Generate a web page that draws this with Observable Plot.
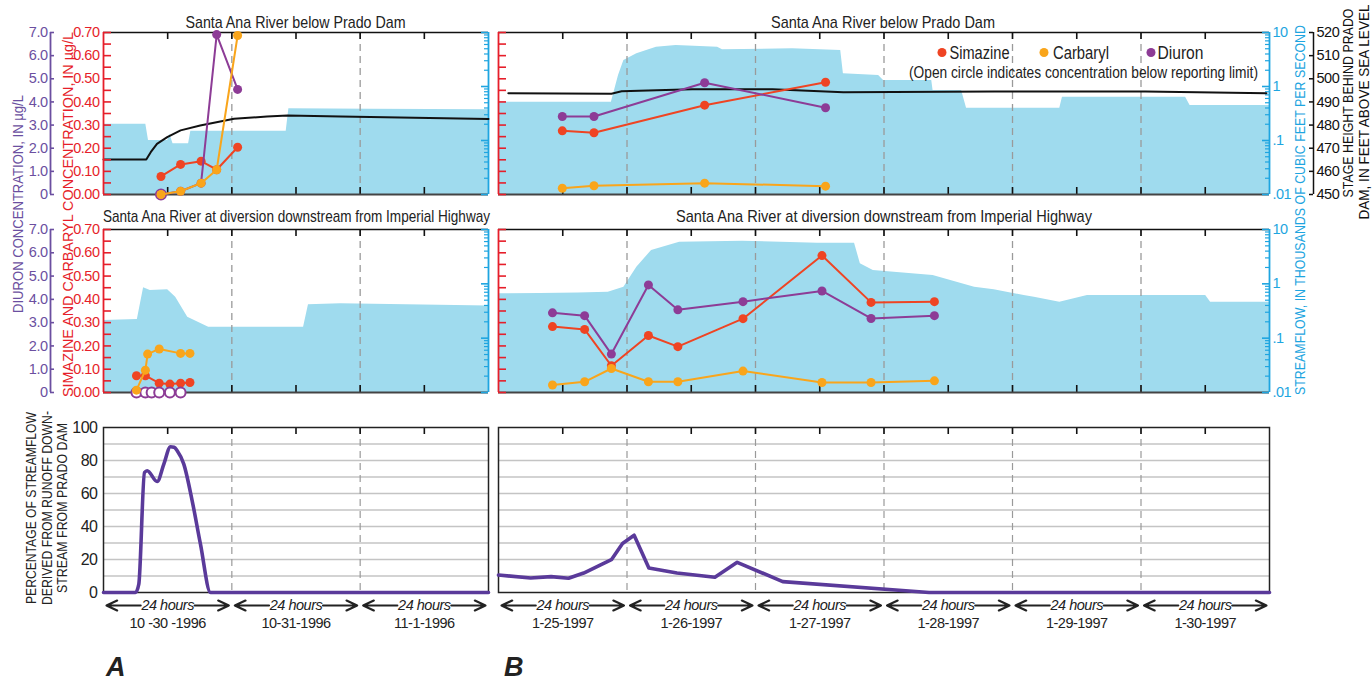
<!DOCTYPE html>
<html>
<head>
<meta charset="utf-8">
<script src="https://cdn.jsdelivr.net/npm/d3@7"></script>
<script src="https://cdn.jsdelivr.net/npm/@observablehq/plot@0.6"></script>
<style>
  html, body { margin: 0; padding: 0; background: #fff; overflow: hidden; }
  #chart { position: relative; width: 1372px; height: 677px; overflow: hidden; }
  #chart svg { position: absolute; left: 0; top: 0; }
</style>
</head>
<body>
<div id="chart"></div>
<script>
// ---------------- Axes ----------------
const flowTicks = [0.01, 0.1, 1, 10];                 // thousands of ft³/s (log)
const flowTickLabels = [".01", ".1", "1", "10"];
const concTicks = [0, 0.1, 0.2, 0.3, 0.4, 0.5, 0.6, 0.7]; // simazine & carbaryl, µg/L
const concMinorTicks = [0, 0.05, 0.1, 0.15, 0.2, 0.25, 0.3, 0.35, 0.4, 0.45, 0.5, 0.55, 0.6, 0.65, 0.7];
const diuronTicks = [0, 1, 2, 3, 4, 5, 6, 7];           // diuron, µg/L
const diuronTickLabels = ["0", "1.0", "2.0", "3.0", "4.0", "5.0", "6.0", "7.0"];
const stageTicks = [450, 460, 470, 480, 490, 500, 510, 520]; // feet above sea level
const percentTicks = [0, 20, 40, 60, 80, 100];
const percentGrid = [10, 20, 30, 40, 50, 60, 70, 80, 90];

// ---------------- Storm A: Oct 30 - Nov 1, 1996 ----------------
const daysA = ["1996-10-30", "1996-11-02"];
const dateLabelsA = ["10 -30 -1996", "10-31-1996", "11-1-1996"];

// Santa Ana River below Prado Dam
const pradoA_times = ["1996-10-30T10:45", "1996-10-30T14:25", "1996-10-30T18:15", "1996-10-30T21:10", "1996-10-31T01:05"];
const pradoA_simazine = [0.078, 0.13, 0.144, 0.107, 0.204];
const pradoA_carbaryl = [0.0, 0.014, 0.049, 0.107, 0.687];
const pradoA_diuron = [0.0, 0.14, 0.49, 6.91, 4.54];
const pradoA_diuronBelow = [true, false, false, false, false];

const pradoA_flowTimes = ["1996-10-30T00:00", "1996-10-30T07:55", "1996-10-30T08:25", "1996-10-30T12:00", "1996-10-30T12:25", "1996-10-30T13:00", "1996-10-30T15:55", "1996-10-30T16:20", "1996-10-31T10:10", "1996-10-31T10:40", "1996-11-01T02:00", "1996-11-02T00:00"];
const pradoA_flow = [0.20, 0.20, 0.10, 0.10, 0.13, 0.087, 0.087, 0.149, 0.149, 0.386, 0.38, 0.37];

const pradoA_stageTimes = ["1996-10-30T00:00", "1996-10-30T08:00", "1996-10-30T08:50", "1996-10-30T10:00", "1996-10-30T11:55", "1996-10-30T14:25", "1996-10-30T18:05", "1996-10-31T00:25", "1996-10-31T06:35", "1996-10-31T10:25", "1996-10-31T20:20", "1996-11-02T00:00"];
const pradoA_stage = [465.1, 465.1, 468.3, 471.9, 474.8, 477.7, 479.8, 482.7, 483.7, 484.1, 483.7, 482.6];

// Santa Ana River at diversion downstream from Imperial Highway
const imperialA_times = ["1996-10-30T06:10", "1996-10-30T07:50", "1996-10-30T08:15", "1996-10-30T09:00", "1996-10-30T10:25", "1996-10-30T12:25", "1996-10-30T14:25", "1996-10-30T16:10"];
const imperialA_simazine = [0.072, 0.072, null, null, 0.040, 0.036, 0.040, 0.043];
const imperialA_carbaryl = [0.010, 0.096, 0.165, null, 0.187, null, 0.168, 0.168];
const imperialA_diuron = [0, 0, null, 0, 0, 0, 0, null];
const imperialA_diuronBelow = [true, true, null, true, true, true, true, null];

const imperialA_flowTimes = ["1996-10-30T00:00", "1996-10-30T06:20", "1996-10-30T07:30", "1996-10-30T08:45", "1996-10-30T12:00", "1996-10-30T13:30", "1996-10-30T15:45", "1996-10-30T19:40", "1996-10-31T13:25", "1996-10-31T14:20", "1996-10-31T20:20", "1996-11-02T00:00"];
const imperialA_flow = [0.211, 0.22, 0.845, 0.754, 0.78, 0.568, 0.243, 0.159, 0.159, 0.411, 0.43, 0.39];

// Percentage of streamflow derived from runoff downstream from Prado Dam
const runoffA_times = ["1996-10-30T00:00", "1996-10-30T05:59", "1996-10-30T06:36", "1996-10-30T07:40", "1996-10-30T08:10", "1996-10-30T10:02", "1996-10-30T11:17", "1996-10-30T12:32", "1996-10-30T13:12", "1996-10-30T13:47", "1996-10-30T15:01", "1996-10-30T16:35", "1996-10-30T18:08", "1996-10-30T20:01", "1996-11-02T00:00"];
const runoffA_percent = [0, 0, 5, 72.7, 73.8, 67.3, 77.8, 88.3, 88, 85.9, 77.8, 55.6, 29.3, 0, 0];

// ---------------- Storm B: Jan 25 - 30, 1997 ----------------
const daysB = ["1997-01-25", "1997-01-31"];
const dateLabelsB = ["1-25-1997", "1-26-1997", "1-27-1997", "1-28-1997", "1-29-1997", "1-30-1997"];

const pradoB_times = ["1997-01-25T11:55", "1997-01-25T17:50", "1997-01-26T14:30", "1997-01-27T13:05"];
const pradoB_simazine = [0.275, 0.267, 0.386, 0.485];
const pradoB_carbaryl = [0.027, 0.038, 0.049, 0.036];
const pradoB_diuron = [3.37, 3.37, 4.83, 3.75];
const pradoB_diuronBelow = [false, false, false, false];

const pradoB_flowTimes = ["1997-01-25T00:00", "1997-01-25T21:05", "1997-01-25T22:25", "1997-01-25T23:25", "1997-01-26T01:50", "1997-01-26T05:30", "1997-01-26T09:10", "1997-01-26T13:40", "1997-01-26T16:55", "1997-01-26T17:50", "1997-01-27T06:55", "1997-01-27T15:55", "1997-01-27T16:25", "1997-01-27T23:00", "1997-01-27T23:55", "1997-01-28T08:55", "1997-01-28T09:10", "1997-01-28T14:30", "1997-01-28T15:25", "1997-01-29T08:50", "1997-01-29T09:20", "1997-01-30T08:20", "1997-01-30T09:10", "1997-01-31T00:00"];
const pradoB_flow = [0.512, 0.512, 1.6, 3.03, 4.03, 5.34, 5.74, 5.5, 5.34, 4.78, 4.99, 4.64, 1.72, 1.6, 1.29, 1.29, 0.843, 0.843, 0.396, 0.396, 0.634, 0.634, 0.445, 0.445];

const pradoB_stageTimes = ["1997-01-25T01:50", "1997-01-25T21:05", "1997-01-25T23:00", "1997-01-26T12:10", "1997-01-27T03:10", "1997-01-27T16:25", "1997-01-28T20:35", "1997-01-30T00:50", "1997-01-30T23:25"];
const pradoB_stage = [493.8, 493.5, 494.6, 495.5, 495.5, 494.2, 494.5, 494.5, 493.8];

const imperialB_times = ["1997-01-25T10:05", "1997-01-25T16:05", "1997-01-25T21:05", "1997-01-26T04:00", "1997-01-26T09:30", "1997-01-26T21:40", "1997-01-27T12:25", "1997-01-27T21:35", "1997-01-28T09:25"];
const imperialB_simazine = [0.283, 0.271, 0.115, 0.245, 0.197, 0.317, 0.588, 0.387, 0.39];
const imperialB_carbaryl = [0.032, 0.046, 0.103, 0.046, 0.046, 0.092, 0.043, 0.043, 0.05];
const imperialB_diuron = [3.42, 3.30, 1.65, 4.62, 3.55, 3.90, 4.36, 3.18, 3.30];
const imperialB_diuronBelow = [false, false, false, false, false, false, false, false, false];

const imperialB_flowTimes = ["1997-01-25T00:00", "1997-01-25T07:50", "1997-01-25T14:55", "1997-01-25T20:30", "1997-01-25T23:25", "1997-01-26T01:50", "1997-01-26T04:35", "1997-01-26T09:50", "1997-01-26T21:35", "1997-01-27T11:35", "1997-01-27T18:30", "1997-01-27T19:35", "1997-01-27T22:00", "1997-01-28T09:10", "1997-01-28T16:55", "1997-01-28T20:35", "1997-01-29T02:10", "1997-01-29T04:05", "1997-01-29T08:50", "1997-01-29T14:00", "1997-01-30T12:05", "1997-01-30T13:00", "1997-01-31T00:00"];
const imperialB_flow = [0.656, 0.664, 0.678, 0.70, 0.867, 2.02, 4.11, 5.84, 6.09, 5.6, 5.6, 2.34, 1.76, 1.42, 0.867, 0.777, 0.61, 0.568, 0.459, 0.61, 0.61, 0.459, 0.459];

const runoffB_times = ["1997-01-25T00:00", "1997-01-25T06:00", "1997-01-25T09:50", "1997-01-25T13:05", "1997-01-25T15:55", "1997-01-25T21:05", "1997-01-25T23:10", "1997-01-26T01:20", "1997-01-26T04:05", "1997-01-26T09:20", "1997-01-26T16:25", "1997-01-26T20:35", "1997-01-27T05:05", "1997-01-28T08:25", "1997-01-31T00:00"];
const runoffB_percent = [10.6, 8.8, 9.6, 8.6, 11.8, 19.9, 29.7, 34.7, 14.9, 11.8, 9.2, 18.3, 6.6, 0, 0];

// ---------------- Styling ----------------
const FONT = '"Liberation Sans", Arial, sans-serif';
const C = {
  flow: "#9fdbee", flowAxis: "#1ea5e0",
  simazine: "#ef4423", carbaryl: "#f9a51b", diuron: "#8d3c96",
  redAxis: "#e61e2a", purpleAxis: "#6b4fa0",
  runoff: "#5a3a9a", grid: "#c4c4c4", dash: "#9a9a9a", ink: "#222"
};

// ---------------- Layout (every layer is a full-size transparent SVG) ----------------
const W = 1372, H = 677;
const colA = [103, 488], colB = [498, 1269];
const rowTop = [32, 194], rowMid = [229, 392], rowBot = [427, 592];
const chart = document.getElementById("chart");

const toDate = s => new Date(s.length === 10 ? s + "T00:00:00Z" : s + ":00Z");
const flowLabel = new Map(flowTicks.map((d, i) => [d, flowTickLabels[i]]));
const diuronLabel = new Map(diuronTicks.map((d, i) => [d, diuronTickLabels[i]]));
const flowMinorTicks = flowTicks.slice(0, -1).flatMap(d => [2, 3, 4, 5, 6, 7, 8, 9].map(k => +(k * d).toPrecision(3)));

function addLayer([x0, x1], [y0, y1], options) {
  const svg = Plot.plot({
    width: W, height: H,
    marginLeft: x0, marginRight: W - x1, marginTop: y0, marginBottom: H - y1,
    style: `background: none; overflow: visible; font-family: ${FONT}; font-size: 14.5px; letter-spacing: -0.5px;`,
    ...options
  });
  chart.append(svg);
}

function timeScale(days) {
  return {type: "utc", domain: [toDate(days[0]), toDate(days[1])], axis: null};
}

// One concentration panel: streamflow area, optional stage, three pesticides
function concPanel({col, row, days, flowTimes, flow, stageTimes, stage, times, simazine, carbaryl, diuron, diuronBelow, leftLabels, rightLabels, stageAxis}) {
  const frameW = col[1] - col[0], frameH = row[1] - row[0];
  const x = timeScale(days);
  const [start, end] = x.domain;
  const halfDays = d3.utcHour.every(12).range(start, end).slice(1);
  const dayBounds = d3.utcDay.range(start, end).slice(1);

  // Streamflow (log) with its axis on the right
  const flowData = flowTimes.map((t, i) => ({t: toDate(t), q: flow[i]}));
  addLayer(col, row, {
    x, y: {type: "log", domain: [flowTicks[0], flowTicks[flowTicks.length - 1]], axis: null},
    marks: [
      Plot.areaY(flowData, {x: "t", y1: () => flowTicks[0], y2: "q", fill: C.flow}),
      Plot.ruleX(dayBounds, {stroke: C.dash, strokeWidth: 1.3, strokeDasharray: "7,5"}),
      Plot.ruleX(halfDays, {stroke: "#111", strokeWidth: 1.6, insetBottom: frameH - 7}),
      Plot.ruleX(halfDays, {stroke: "#111", strokeWidth: 1.6, insetTop: frameH - 7}),
      Plot.ruleY([flowTicks[flowTicks.length - 1]], {stroke: "#111", strokeWidth: 1.6}),
      Plot.ruleY([flowTicks[0]], {stroke: "#444", strokeWidth: 2.2}),
      Plot.ruleY(flowMinorTicks, {stroke: C.flowAxis, strokeWidth: 1.2, insetLeft: frameW - 4}),
      Plot.ruleY(flowTicks, {stroke: C.flowAxis, strokeWidth: 1.6, insetLeft: frameW - 7}),
      Plot.ruleX([end], {stroke: C.flowAxis, strokeWidth: 1.8}),
      rightLabels ? Plot.axisY(flowTicks, {anchor: "right", tickSize: 0, tickPadding: 3, tickFormat: d => flowLabel.get(d), color: C.flowAxis, label: null}) : null
    ]
  });

  // Stage behind Prado Dam
  if (stage) {
    const stageData = stageTimes.map((t, i) => ({t: toDate(t), h: stage[i]}));
    addLayer(col, row, {
      x, y: {domain: [stageTicks[0], stageTicks[stageTicks.length - 1]], axis: null},
      marks: [Plot.line(stageData, {x: "t", y: "h", stroke: "#111", strokeWidth: 2})]
    });
  }

  const rows = times.map((t, i) => ({t: toDate(t), sim: simazine[i], carb: carbaryl[i], diu: diuron[i], below: diuronBelow[i]}));
  const concY = {domain: [concTicks[0], concTicks[concTicks.length - 1]], axis: null};

  // Simazine, with the µg/L axis on the left
  const simRows = rows.filter(d => d.sim != null);
  addLayer(col, row, {
    x, y: concY,
    marks: [
      Plot.ruleX([start], {stroke: C.redAxis, strokeWidth: 1.8}),
      Plot.ruleY(concMinorTicks, {stroke: C.redAxis, strokeWidth: 1.6, insetRight: frameW - 8}),
      leftLabels ? Plot.axisY(concTicks, {anchor: "left", tickSize: 0, tickPadding: 4, tickFormat: d3.format(".2f"), color: C.redAxis, label: null}) : null,
      Plot.line(simRows, {x: "t", y: "sim", stroke: C.simazine, strokeWidth: 2}),
      Plot.dot(simRows, {x: "t", y: "sim", r: 4.5, fill: C.simazine})
    ]
  });

  // Diuron (its own 0-7 µg/L scale); open circles are below the reporting limit
  const diuRows = rows.filter(d => d.diu != null);
  const diuLine = diuRows.filter((d, i) => !d.below || (diuRows[i - 1] && !diuRows[i - 1].below) || (diuRows[i + 1] && !diuRows[i + 1].below));
  addLayer(col, row, {
    x, y: {domain: [diuronTicks[0], diuronTicks[diuronTicks.length - 1]], axis: null},
    marks: [
      Plot.line(diuLine, {x: "t", y: "diu", stroke: C.diuron, strokeWidth: 2}),
      Plot.dot(diuRows.filter(d => !d.below), {x: "t", y: "diu", r: 4.5, fill: C.diuron}),
      Plot.dot(diuRows.filter(d => d.below), {x: "t", y: "diu", r: 5, fill: "white", stroke: C.diuron, strokeWidth: 2})
    ]
  });

  // Carbaryl
  const carbRows = rows.filter(d => d.carb != null);
  addLayer(col, row, {
    x, y: concY,
    marks: [
      Plot.line(carbRows, {x: "t", y: "carb", stroke: C.carbaryl, strokeWidth: 2}),
      Plot.dot(carbRows, {x: "t", y: "carb", r: 4.5, fill: C.carbaryl})
    ]
  });

  // Diuron axis, standing apart to the left of the panel
  if (leftLabels) {
    addLayer([50, 54], row, {
      x: {domain: [0, 1], axis: null},
      y: {domain: [diuronTicks[0], diuronTicks[diuronTicks.length - 1]], axis: null},
      marks: [
        Plot.ruleX([0], {stroke: C.purpleAxis, strokeWidth: 1.8}),
        Plot.ruleY(diuronTicks, {stroke: C.purpleAxis, strokeWidth: 1.6}),
        Plot.axisY(diuronTicks, {anchor: "left", tickSize: 0, tickPadding: 3, tickFormat: d => diuronLabel.get(d), color: C.purpleAxis, label: null})
      ]
    });
  }

  // Stage axis, to the right of the streamflow labels
  if (stageAxis) {
    addLayer([1309, 1313], row, {
      x: {domain: [0, 1], axis: null},
      y: {domain: [stageTicks[0], stageTicks[stageTicks.length - 1]], axis: null},
      marks: [
        Plot.ruleX([1], {stroke: "#111", strokeWidth: 1.5}),
        Plot.ruleY(stageTicks, {stroke: "#111", strokeWidth: 1.5}),
        Plot.axisY(stageTicks, {anchor: "right", tickSize: 0, tickPadding: 3, color: "#111", label: null})
      ]
    });
  }
}

// Runoff percentage panel, with the day labels underneath
function runoffPanel({col, days, dateLabels, times, percent, leftLabels, curve}) {
  const frameH = rowBot[1] - rowBot[0];
  const x = timeScale(days);
  const [start, end] = x.domain;
  const halfDays = d3.utcHour.every(12).range(start, end).slice(1);
  const dayStarts = d3.utcDay.range(start, end);
  const dayBounds = dayStarts.slice(1);
  const noons = dayStarts.map(d => d3.utcHour.offset(d, 12));
  const labelByNoon = new Map(noons.map((d, i) => [+d, dateLabels[i]]));
  const arrows = dayStarts.flatMap(d => [
    {from: d3.utcHour.offset(d, 12), to: d},
    {from: d3.utcHour.offset(d, 12), to: d3.utcDay.offset(d, 1)}
  ]);
  const data = times.map((t, i) => ({t: toDate(t), p: percent[i]}));

  addLayer(col, rowBot, {
    x, y: {domain: [percentTicks[0], percentTicks[percentTicks.length - 1]], axis: null},
    marks: [
      Plot.ruleY(percentGrid, {stroke: C.grid, strokeWidth: 1.4}),
      Plot.ruleX(dayBounds, {stroke: C.dash, strokeWidth: 1.2, strokeDasharray: "7,5"}),
      Plot.ruleX(halfDays, {stroke: "#111", strokeWidth: 1.6, insetBottom: frameH - 7}),
      Plot.frame({stroke: "#222", strokeWidth: 1.5}),
      Plot.line(data, {x: "t", y: "p", stroke: C.runoff, strokeWidth: 3.6, curve}),
      leftLabels ? Plot.axisY(percentTicks, {anchor: "left", tickSize: 0, tickPadding: 6, color: C.ink, fontSize: 16, label: null}) : null,
      Plot.axisX(noons, {anchor: "bottom", tickSize: 0, tickPadding: 25, tickFormat: d => labelByNoon.get(+d), color: C.ink, label: null}),
      Plot.arrow(arrows, {x1: "from", x2: "to", y1: () => 0, y2: () => 0, dy: 13, insetStart: 27, insetEnd: 3, headLength: 8, headAngle: 50, stroke: "#222", strokeWidth: 2.2}),
      Plot.text(noons, {x: d => d, text: () => "24 hours", frameAnchor: "bottom", lineAnchor: "middle", dy: 13, fontStyle: "italic", fontSize: 14.5, fill: C.ink})
    ]
  });
}

// ---------------- Panels ----------------
concPanel({col: colA, row: rowTop, days: daysA, flowTimes: pradoA_flowTimes, flow: pradoA_flow,
  stageTimes: pradoA_stageTimes, stage: pradoA_stage, times: pradoA_times,
  simazine: pradoA_simazine, carbaryl: pradoA_carbaryl, diuron: pradoA_diuron, diuronBelow: pradoA_diuronBelow,
  leftLabels: true});
concPanel({col: colA, row: rowMid, days: daysA, flowTimes: imperialA_flowTimes, flow: imperialA_flow,
  times: imperialA_times, simazine: imperialA_simazine, carbaryl: imperialA_carbaryl,
  diuron: imperialA_diuron, diuronBelow: imperialA_diuronBelow, leftLabels: true});
concPanel({col: colB, row: rowTop, days: daysB, flowTimes: pradoB_flowTimes, flow: pradoB_flow,
  stageTimes: pradoB_stageTimes, stage: pradoB_stage, times: pradoB_times,
  simazine: pradoB_simazine, carbaryl: pradoB_carbaryl, diuron: pradoB_diuron, diuronBelow: pradoB_diuronBelow,
  rightLabels: true, stageAxis: true});
concPanel({col: colB, row: rowMid, days: daysB, flowTimes: imperialB_flowTimes, flow: imperialB_flow,
  times: imperialB_times, simazine: imperialB_simazine, carbaryl: imperialB_carbaryl,
  diuron: imperialB_diuron, diuronBelow: imperialB_diuronBelow, rightLabels: true});
runoffPanel({col: colA, days: daysA, dateLabels: dateLabelsA, times: runoffA_times, percent: runoffA_percent, leftLabels: true, curve: "monotone-x"});
runoffPanel({col: colB, days: daysB, dateLabels: dateLabelsB, times: runoffB_times, percent: runoffB_percent, curve: "linear"});

// ---------------- Titles, legend and axis titles ----------------
const overlay = d3.select(chart).append("svg")
  .attr("width", W).attr("height", H)
  .style("font-family", FONT);

function label(x, y, s, {size = 15, fill = C.ink, anchor = "middle", rotate = false, length, weight, style} = {}) {
  const t = overlay.append("text")
    .attr("x", x).attr("y", y)
    .attr("text-anchor", anchor)
    .attr("font-size", size)
    .attr("fill", fill)
    .text(s);
  if (rotate) t.attr("transform", `rotate(-90 ${x} ${y})`);
  if (length) t.attr("textLength", length).attr("lengthAdjust", "spacingAndGlyphs");
  if (weight) t.attr("font-weight", weight);
  if (style) t.attr("font-style", style);
  return t;
}

// Site titles
label(295.5, 27.5, "Santa Ana River below Prado Dam", {size: 17, length: 220});
label(883, 27.5, "Santa Ana River below Prado Dam", {size: 17, length: 224});
label(296.5, 221.5, "Santa Ana River at diversion downstream from Imperial Highway", {size: 17, length: 387});
label(884, 221.5, "Santa Ana River at diversion downstream from Imperial Highway", {size: 17, length: 416});

// Legend
const legend = [
  {name: "Simazine", color: C.simazine, cx: 942, tx: 949.5, w: 60},
  {name: "Carbaryl", color: C.carbaryl, cx: 1044, tx: 1053, w: 56},
  {name: "Diuron", color: C.diuron, cx: 1151, tx: 1157.5, w: 46}
];
legend.forEach(d => {
  overlay.append("circle").attr("cx", d.cx).attr("cy", 52.5).attr("r", 4.5).attr("fill", d.color);
  label(d.tx, 58.5, d.name, {size: 17.5, anchor: "start", length: d.w});
});
label(1083.5, 77.5, "(Open circle indicates concentration below reporting limit)", {size: 17, length: 349});

// Axis titles
label(22.5, 204, "DIURON CONCENTRATION, IN µg/L", {size: 15.5, fill: C.purpleAxis, rotate: true, length: 218});
label(73, 214.5, "SIMAZINE AND CARBARYL CONCENTRATION, IN µg/L", {size: 15.5, fill: C.redAxis, rotate: true, length: 365});
label(1304.5, 210, "STREAMFLOW, IN THOUSANDS OF CUBIC FEET PER SECOND", {size: 15.5, fill: C.flowAxis, rotate: true, length: 370});
label(1352.5, 103, "STAGE HEIGHT BEHIND PRADO", {size: 15.5, fill: "#111", rotate: true, length: 189});
label(1368.5, 112, "DAM, IN FEET ABOVE SEA LEVEL", {size: 15.5, fill: "#111", rotate: true, length: 215});
label(35.5, 508, "PERCENTAGE OF STREAMFLOW", {size: 15, rotate: true, length: 192});
label(52, 508, "DERIVED FROM RUNOFF DOWN-", {size: 15, rotate: true, length: 194});
label(67, 508, "STREAM FROM PRADO DAM", {size: 15, rotate: true, length: 170});

// Storm letters
label(106, 676, "A", {size: 27, anchor: "start", weight: "bold", style: "italic"});
label(504, 676, "B", {size: 27, anchor: "start", weight: "bold", style: "italic"});
</script>
</body>
</html>
